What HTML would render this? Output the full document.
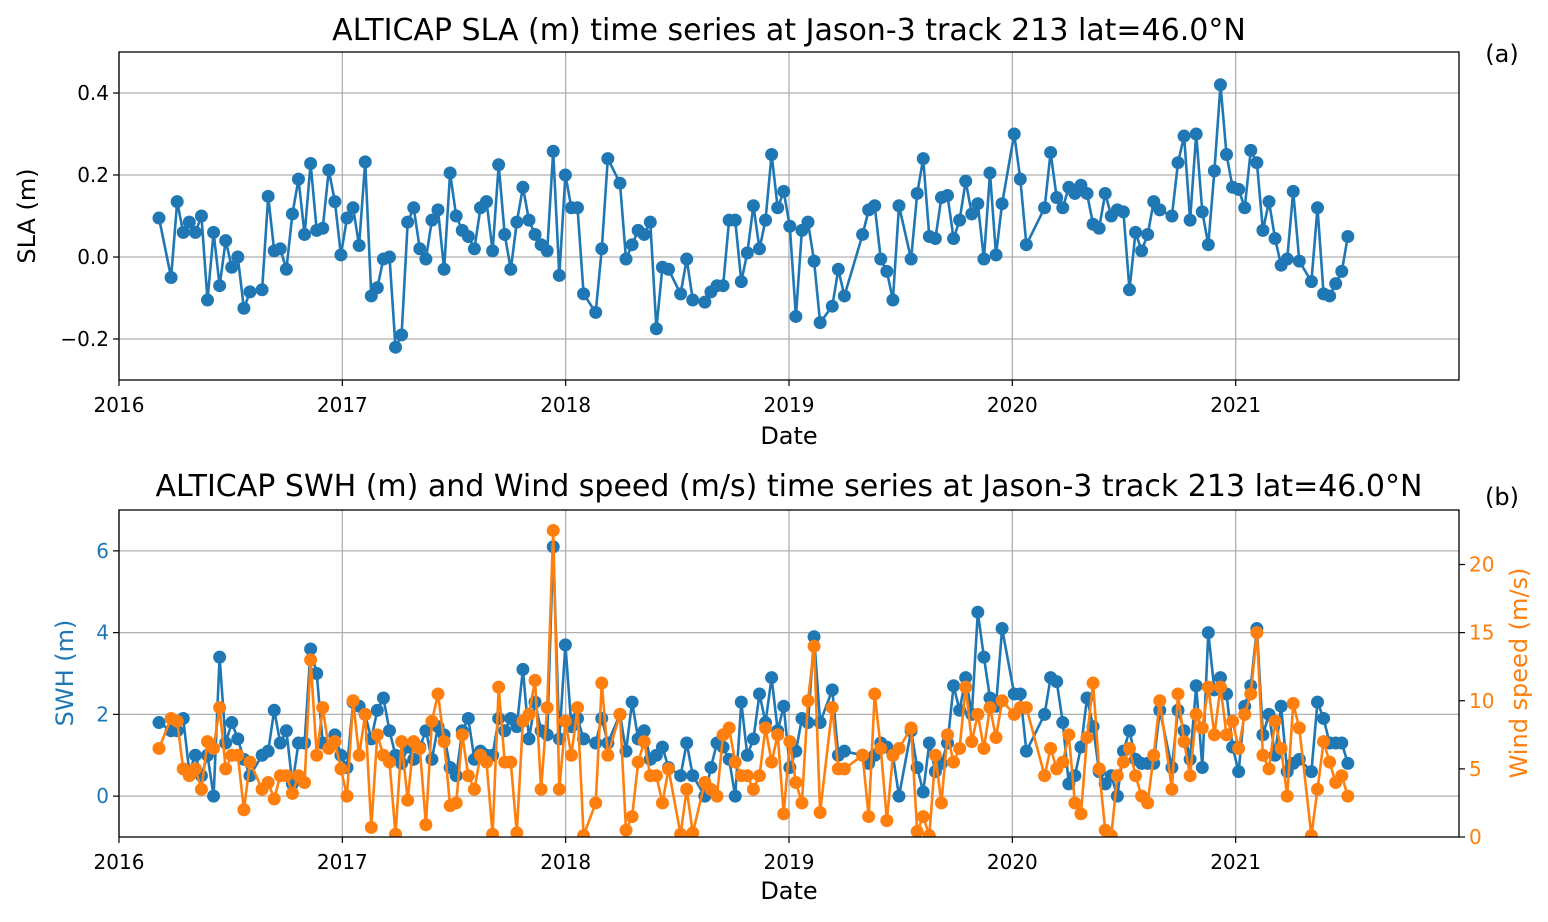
<!DOCTYPE html>
<html><head><meta charset="utf-8"><style>
body{margin:0;background:#fff;}
svg text{font-family:"DejaVu Sans","Liberation Sans",sans-serif;}
</style></head><body>
<svg id="chart" width="1548" height="917" viewBox="0 0 1548 917" xmlns="http://www.w3.org/2000/svg">
<rect width="1548" height="917" fill="#fff"/>
<g id="topPanel"></g>
<g id="botPanel"></g>
</svg>
<script>
// Jason-3 cycle indices (offset from first sample) for each observation
const cycles=[0,2,3,4,5,6,7,8,9,10,11,12,13,14,15,17,18,19,20,21,22,23,24,25,26,27,28,29,30,31,32,33,34,35,36,37,38,39,40,41,42,43,44,45,46,47,48,49,50,51,52,53,54,55,56,57,58,59,60,61,62,63,64,65,66,67,68,69,70,72,73,74,76,77,78,79,80,81,82,83,84,86,87,88,90,91,92,93,94,95,96,97,98,99,100,101,102,103,104,105,106,107,108,109,111,112,113,116,117,118,119,120,121,122,124,125,126,127,128,129,130,131,132,133,134,135,136,137,138,139,141,142,143,146,147,148,149,150,151,152,153,154,155,156,157,158,159,160,161,162,163,164,165,167,168,169,170,171,172,173,174,175,176,177,178,179,180,181,182,183,184,185,186,187,188,190,191,192,193,194,195,196];
const startYear=2016.179;
const cycleDays=9.92;
const sla=[0.095,-0.05,0.135,0.06,0.085,0.06,0.10,-0.105,0.06,-0.07,0.04,-0.025,0.0,-0.125,-0.085,-0.08,0.148,0.015,0.02,-0.03,0.105,0.19,0.055,0.228,0.065,0.07,0.212,0.135,0.005,0.095,0.12,0.028,0.232,-0.095,-0.075,-0.005,0.0,-0.22,-0.19,0.085,0.12,0.02,-0.005,0.09,0.115,-0.03,0.205,0.10,0.065,0.05,0.02,0.12,0.135,0.015,0.225,0.055,-0.03,0.085,0.17,0.09,0.055,0.03,0.015,0.258,-0.045,0.20,0.12,0.12,-0.09,-0.135,0.02,0.24,0.18,-0.005,0.03,0.065,0.055,0.085,-0.175,-0.025,-0.03,-0.09,-0.005,-0.105,-0.11,-0.085,-0.07,-0.07,0.09,0.09,-0.06,0.01,0.125,0.02,0.09,0.25,0.12,0.16,0.075,-0.145,0.065,0.085,-0.01,-0.16,-0.12,-0.03,-0.095,0.055,0.115,0.125,-0.005,-0.035,-0.105,0.125,-0.005,0.155,0.24,0.05,0.045,0.145,0.15,0.045,0.09,0.185,0.105,0.13,-0.005,0.205,0.005,0.13,0.30,0.19,0.03,0.12,0.255,0.145,0.12,0.17,0.155,0.175,0.155,0.08,0.07,0.155,0.10,0.115,0.11,-0.08,0.06,0.015,0.055,0.135,0.115,0.10,0.23,0.295,0.09,0.30,0.11,0.03,0.21,0.42,0.25,0.17,0.165,0.12,0.26,0.23,0.065,0.135,0.045,-0.02,-0.005,0.16,-0.01,-0.06,0.12,-0.09,-0.095,-0.065,-0.035,0.05];
const swh=[1.8,1.6,1.6,1.9,0.6,1.0,0.5,1.0,0.0,3.4,1.3,1.8,1.4,0.9,0.5,1.0,1.1,2.1,1.3,1.6,0.3,1.3,1.3,3.6,3.0,1.3,1.2,1.5,1.0,0.7,2.3,2.2,2.0,1.4,2.1,2.4,1.6,1.0,0.8,1.2,0.9,1.2,1.6,0.9,1.7,1.5,0.7,0.5,1.6,1.9,0.9,1.1,1.0,1.0,1.9,1.6,1.9,1.7,3.1,1.4,2.3,1.6,1.5,6.1,1.4,3.7,1.7,1.9,1.4,1.3,1.9,1.3,2.0,1.1,2.3,1.4,1.6,0.9,1.0,1.2,0.7,0.5,1.3,0.5,0.0,0.7,1.3,1.2,0.9,0.0,2.3,1.0,1.4,2.5,1.8,2.9,1.6,2.2,0.7,1.1,1.9,1.8,3.9,1.8,2.6,1.0,1.1,1.0,0.8,1.0,1.3,1.2,1.0,0.0,1.6,0.7,0.1,1.3,0.6,0.8,1.3,2.7,2.1,2.9,2.0,4.5,3.4,2.4,2.2,4.1,2.5,2.5,1.1,2.0,2.9,2.8,1.8,0.3,0.5,1.2,2.4,1.7,0.6,0.3,0.5,0.0,1.1,1.6,0.9,0.8,0.8,0.8,2.1,0.7,2.1,1.6,0.9,2.7,0.7,4.0,2.6,2.9,2.5,1.2,0.6,2.2,2.7,4.1,1.5,2.0,1.0,2.2,0.6,0.8,0.9,0.6,2.3,1.9,1.3,1.3,1.3,0.8];
const wind=[6.5,8.7,8.5,5,4.5,5,3.5,7,6.5,9.5,5,6,6,2,5.5,3.5,4,2.8,4.5,4.5,3.2,4.5,4,13,6,9.5,6.5,7,5,3,10,6,9,0.7,7.5,6,5.5,0.2,7,2.7,7,6.5,0.9,8.5,10.5,7,2.3,2.5,7.5,4.5,3.5,6,5.5,0.2,11,5.5,5.5,0.3,8.5,9,11.5,3.5,9.5,22.5,3.5,8.5,6,9.5,0.1,2.5,11.3,6,9,0.5,1.5,5.5,7,4.5,4.5,2.5,5,0.2,3.5,0.3,4,3.5,3,7.5,8,5.5,4.5,4.5,3.5,4.5,8,5.5,7.5,1.7,7,4,2.5,10,14,1.8,9.5,5,5,6,1.5,10.5,6.5,1.2,6,6.5,8,0.4,1.5,0.1,6,2.5,7.5,5.5,6.5,11,7,9,6.5,9.5,7.3,10,9,9.5,9.5,4.5,6.5,5,5.5,7.5,2.5,1.7,7.3,11.3,5,0.5,0.1,4.5,5.5,6.5,4.5,3,2.5,6,10,3.5,10.5,7,4.5,9,8,11,7.5,11,7.5,8.5,6.5,9,10.5,15,6,5,8.5,6.5,3,9.8,8,0.1,3.5,7,5.5,4,4.5,3];
const yearTicks=[2016,2017,2018,2019,2020,2021];
const slaTicks=[-0.2,0.0,0.2,0.4];
const swhTicks=[0,2,4,6];
const windTicks=[0,5,10,15,20];

const NS="http://www.w3.org/2000/svg";
const BLUE="#1f77b4",ORANGE="#ff7f0e";
const TICK=20;
function el(parent,tag,attrs,text){const e=document.createElementNS(NS,tag);for(const k in attrs)e.setAttribute(k,attrs[k]);if(text!==undefined)e.textContent=text;parent.appendChild(e);return e;}
const dates=cycles.map(c=>startYear+c*cycleDays/365.25);
const X0=119,X1=1459;
function xs(y){return X0+(y-2016)/(2022-2016)*(X1-X0);}
function fmt(v){return v<0?"\u2212"+Math.abs(v).toFixed(1):v.toFixed(1);}

function axesFrame(g,t0,b0,ylo,yhi,ticks,tickFmt,tickColor){
  const ys=v=>b0-(v-ylo)/(yhi-ylo)*(b0-t0);
  for(const t of yearTicks){const gl=el(g,"line",{x1:xs(t),x2:xs(t),y1:t0,y2:b0,stroke:"#b0b0b0","stroke-width":1.3});
  
  }
  for(const t of ticks){const gl=el(g,"line",{x1:X0,x2:X1,y1:ys(t),y2:ys(t),stroke:"#b0b0b0","stroke-width":1.3});
  
  
  const tk=el(g,"line",{x1:X0-6,x2:X0,y1:ys(t),y2:ys(t),stroke:"#000","stroke-width":1.2});
  
  
  const tl=el(g,"text",{x:X0-10,y:ys(t)+7,"text-anchor":"end","font-size":TICK,fill:tickColor},tickFmt(t));
  
  }
  for(const t of yearTicks){const tk=el(g,"line",{x1:xs(t),x2:xs(t),y1:b0,y2:b0+6,stroke:"#000","stroke-width":1.2});
  
  
  const tl=el(g,"text",{x:xs(t),y:b0+32,"text-anchor":"middle","font-size":TICK},String(t));
  
  }
  return ys;
}
function series(g,vals,ys,color,name){
  let d="";let first=true;
  const n=Math.min(vals.length,dates.length);
  for(let i=0;i<n;i++){const v=vals[i];if(v===undefined||v===null)continue;const x=xs(dates[i]),y=ys(v);d+=(first?"M":"L")+x.toFixed(1)+","+y.toFixed(1);first=false;}
  const p=el(g,"path",{d:d,fill:"none",stroke:color,"stroke-width":2.6,"stroke-linejoin":"round"});
  
  
  for(let i=0;i<n;i++){const v=vals[i];if(v===undefined||v===null)continue;
  const c=el(g,"circle",{cx:xs(dates[i]),cy:ys(v),r:6.5,fill:color});
  
  }
}
// top panel
const topG=document.getElementById("topPanel");
const ysA=axesFrame(topG,52,380,-0.3,0.5,slaTicks,fmt,"#000");
series(topG,sla,ysA,BLUE,"sla");
const f1=el(topG,"rect",{x:X0,y:52,width:X1-X0,height:328,fill:"none",stroke:"#000","stroke-width":1.3});


const t1=el(topG,"text",{x:789,y:40,"text-anchor":"middle","font-size":30},"ALTICAP SLA (m) time series at Jason-3 track 213 lat=46.0°N");


const l1=el(topG,"text",{x:1502,y:62,"text-anchor":"middle","font-size":24},"(a)");


const yl1=el(topG,"text",{x:0,y:0,"text-anchor":"middle","font-size":24,transform:"translate(35,216) rotate(-90)"},"SLA (m)");


const xl1=el(topG,"text",{x:789,y:444,"text-anchor":"middle","font-size":24},"Date");



// bottom panel
const botG=document.getElementById("botPanel");
const ysB=axesFrame(botG,510,837,-1,7,swhTicks,v=>String(v),BLUE);
const ysW=v=>837-(v/24)*(837-510);
const cp=el(botG,"clipPath",{id:"cb"});el(cp,"rect",{x:X0,y:500,width:X1-X0,height:337});
const gb=el(botG,"g",{"clip-path":"url(#cb)"});
series(gb,swh,ysB,BLUE,"swh");
series(gb,wind,ysW,ORANGE,"wind");
for(const t of windTicks){const tk=el(botG,"line",{x1:X1,x2:X1+6,y1:ysW(t),y2:ysW(t),stroke:"#000","stroke-width":1.2});


const tl=el(botG,"text",{x:X1+10,y:ysW(t)+7,"font-size":TICK,fill:ORANGE},String(t));

}
const f2=el(botG,"rect",{x:X0,y:510,width:X1-X0,height:327,fill:"none",stroke:"#000","stroke-width":1.3});


const t2=el(botG,"text",{x:789,y:496,"text-anchor":"middle","font-size":30},"ALTICAP SWH (m) and Wind speed (m/s) time series at Jason-3 track 213 lat=46.0°N");


const l2=el(botG,"text",{x:1502,y:505,"text-anchor":"middle","font-size":24},"(b)");


const yl2=el(botG,"text",{x:0,y:0,"text-anchor":"middle","font-size":24,fill:BLUE,transform:"translate(73,673) rotate(-90)"},"SWH (m)");


const yr2=el(botG,"text",{x:0,y:0,"text-anchor":"middle","font-size":24,fill:ORANGE,transform:"translate(1527,673) rotate(-90)"},"Wind speed (m/s)");


const xl2=el(botG,"text",{x:789,y:899,"text-anchor":"middle","font-size":24},"Date");


</script>
</body></html>
